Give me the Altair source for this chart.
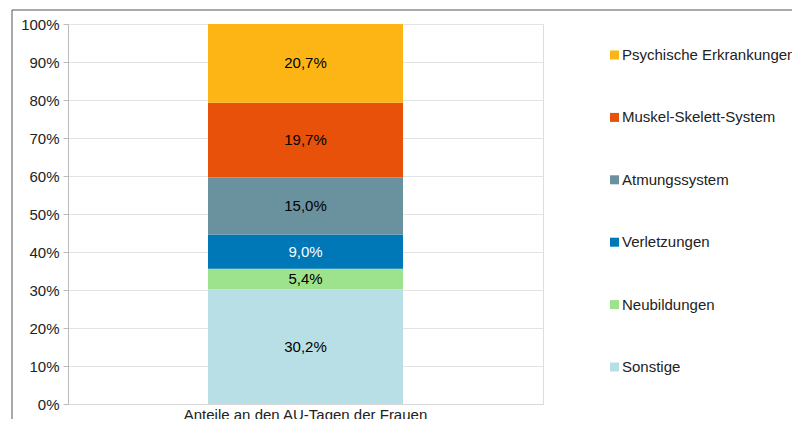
import altair as alt
import pandas as pd

categories = ["Sonstige", "Neubildungen", "Verletzungen", "Atmungssystem",
              "Muskel-Skelett-System", "Psychische Erkrankungen"]
values = [30.2, 5.4, 9.0, 15.0, 19.7, 20.7]
labels = ["30,2%", "5,4%", "9,0%", "15,0%", "19,7%", "20,7%"]
colors = ["#B8DFE6", "#9DE38D", "#0077B6", "#6A919E", "#E8510A", "#FDB515"]
label_colors = ["black", "black", "white", "black", "black", "black"]
y_ticks = [0, 10, 20, 30, 40, 50, 60, 70, 80, 90, 100]
group = "Anteile an den AU-Tagen der Frauen"

legend_order = categories[::-1]
legend_colors = colors[::-1]

rows = []
cum = 0.0
for i, (c, v, l, lc) in enumerate(zip(categories, values, labels, label_colors)):
    rows.append({"group": group, "cat": c, "val": v, "lab": l, "lc": lc,
                 "idx": i, "lo": cum, "hi": cum + v, "mid": cum + v / 2})
    cum += v
df = pd.DataFrame(rows)

FONT = "Liberation Sans"
FS = 15

y_axis = alt.Axis(values=y_ticks, labelExpr="datum.value + '%'",
                  labelOverlap=False, tickCount=11,
                  labelFontSize=FS, labelColor="#222",
                  tickSize=5, tickColor="#bbbbbb",
                  domainColor="#bbbbbb", gridColor="#e3e3e3",
                  labelPadding=4)
y_scale = alt.Scale(domain=[0, 100], nice=False)

base = alt.Chart(df)

bars = base.mark_bar(size=195).encode(
    x=alt.X("group:N", title=None,
            axis=alt.Axis(labelAngle=0, labelFontSize=FS, labelColor="#222",
                          labelLimit=0, ticks=False, domainColor="#d9d9d9",
                          labelPadding=3)),
    y=alt.Y("lo:Q", title=None, scale=y_scale, axis=y_axis),
    y2="hi:Q",
    color=alt.Color("cat:N",
                    scale=alt.Scale(domain=legend_order, range=legend_colors),
                    legend=alt.Legend(title=None, orient="none",
                                      legendX=539, legendY=23.5,
                                      symbolType="square", symbolSize=81,
                                      symbolStrokeWidth=0,
                                      labelFontSize=FS, labelColor="#222",
                                      labelLimit=0,
                                      rowPadding=46.4, padding=0,
                                      labelOffset=0)),
)

text = base.mark_text(fontSize=FS, font=FONT).encode(
    x=alt.X("group:N", title=None),
    y=alt.Y("mid:Q", title=None, scale=y_scale, axis=y_axis),
    text="lab:N",
    color=alt.Color("lc:N", scale=None),
)

frame_top = alt.Chart(pd.DataFrame({"a": [0]})).mark_rule(color="#555555", strokeWidth=1).encode(
    x=alt.value(-56), x2=alt.value(740), y=alt.value(-14))
frame_left = alt.Chart(pd.DataFrame({"a": [0]})).mark_rule(color="#555555", strokeWidth=1).encode(
    x=alt.value(-56), y=alt.value(-14), y2=alt.value(420))

chart = alt.layer(bars, text, frame_top, frame_left).properties(
    width=475, height=380,
    autosize=alt.AutoSizeParams(type="none"),
    padding={"left": 60, "top": 16, "right": 249, "bottom": 15},
).configure_view(stroke=None).configure(font=FONT)

chart.save("out.html", embed_options={"renderer": "svg", "actions": False})
